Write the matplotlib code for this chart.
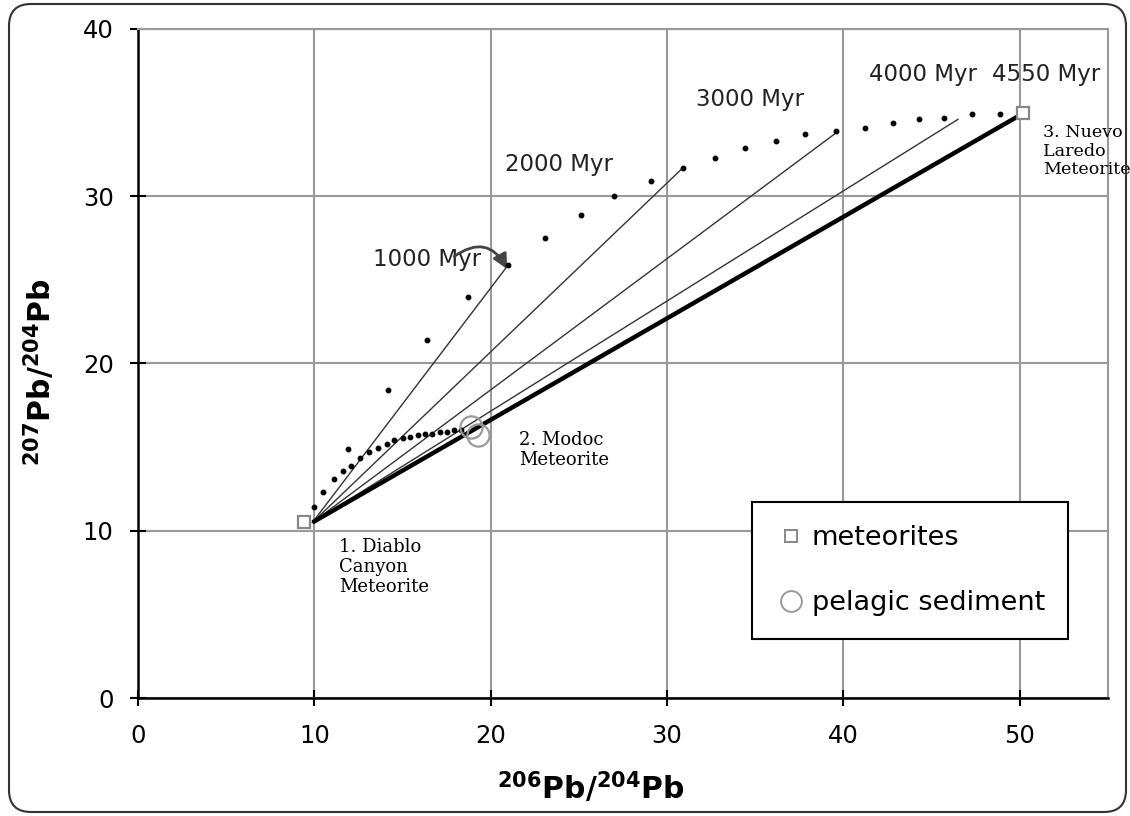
import matplotlib
matplotlib.use("Agg")
import matplotlib.pyplot as plt
from matplotlib.lines import Line2D
from matplotlib.patches import FancyBboxPatch
from matplotlib.transforms import IdentityTransform

# meteorite points (206Pb/204Pb, 207Pb/204Pb)
meteorite_x = [9.4, 50.2]
meteorite_y = [10.5, 35.0]

# pelagic sediment
sediment_x = [18.9, 19.3]
sediment_y = [16.2, 15.7]

# isochrons from primordial lead to the growth curve
iso_start = (9.9, 10.5)
iso_end_x = [21.0, 30.9, 39.6, 46.5]
iso_end_y = [25.9, 31.7, 33.8, 34.6]
geochron_end = (50.1, 34.9)

# growth curve (upper dotted)
upper_x = [11.9, 14.2, 16.4, 18.7, 21.0, 23.1, 25.1, 27.0, 29.1, 30.9, 32.7, 34.4,
           36.2, 37.8, 39.6, 41.2, 42.8, 44.3, 45.7, 47.3, 48.9]
upper_y = [14.9, 18.4, 21.4, 24.0, 25.9, 27.5, 28.9, 30.0, 30.9, 31.7, 32.3, 32.9,
           33.3, 33.7, 33.9, 34.1, 34.4, 34.6, 34.7, 34.9, 34.9]

# lower dotted curve towards Modoc
lower_x = [10.0, 10.5, 11.1, 11.6, 12.1, 12.6, 13.1, 13.6, 14.1, 14.5, 15.0, 15.4,
           15.9, 16.3, 16.7, 17.1, 17.5, 17.9, 18.3]
lower_y = [11.4, 12.3, 13.1, 13.6, 13.9, 14.35, 14.7, 14.95, 15.2, 15.4, 15.55, 15.6,
           15.7, 15.8, 15.8, 15.9, 15.9, 16.0, 16.0]

age_label_pos = [(16.4, 26.2), (23.9, 31.9), (34.7, 35.8), (44.5, 37.25), (51.5, 37.25)]
age_labels = ["1000 Myr", "2000 Myr", "3000 Myr", "4000 Myr", "4550 Myr"]

plt.rcParams['font.family'] = ['DejaVu Sans']

fig = plt.figure(figsize=(11.3, 8.16), dpi=100)
ax = fig.add_axes([0.1221, 0.1446, 0.8584, 0.8199])

# thin isochrons
for ex, ey in zip(iso_end_x, iso_end_y):
    ax.plot([iso_start[0], ex], [iso_start[1], ey], color="#333333", lw=1.0, zorder=3)
# thick geochron
ax.plot([iso_start[0], geochron_end[0]], [iso_start[1], geochron_end[1]],
        color="black", lw=3.2, zorder=4, solid_capstyle="butt")

ax.plot(upper_x, upper_y, ls="none", marker="o", ms=3.2, color="black", zorder=5)
ax.plot(lower_x, lower_y, ls="none", marker="o", ms=3.2, color="black", zorder=5)

ax.plot(sediment_x, sediment_y, ls="none", marker="o", ms=16, mfc="none",
        mec="#999999", mew=1.6, zorder=6)
ax.plot(meteorite_x, meteorite_y, ls="none", marker="s", ms=9, mfc="white",
        mec="#888888", mew=1.6, zorder=6)

for (tx, ty), lab in zip(age_label_pos, age_labels):
    ax.text(tx, ty, lab, fontsize=16.5, color="#222222", ha="center", va="center",
            clip_on=False)

ax.annotate("", xy=(21.0, 25.5), xytext=(17.8, 26.3),
            arrowprops=dict(arrowstyle="-|>", connectionstyle="arc3,rad=-0.6",
                            color="#444444", lw=2, mutation_scale=22))

serif = dict(family="DejaVu Serif", fontsize=13, va="top", ha="left", linespacing=1.12,
             color="black")
ax.text(11.4, 9.55, "1. Diablo\nCanyon\nMeteorite", **serif)
ax.text(21.6, 15.95, "2. Modoc\nMeteorite", **serif)
ax.text(51.3, 34.3, "3. Nuevo\nLaredo\nMeteorite", clip_on=False,
        **dict(serif, fontsize=12.6))

ax.set_xlim(0, 55)
ax.set_ylim(0, 40)
ax.set_xticks(range(0, 51, 10))
ax.set_yticks(range(0, 41, 10))
ax.grid(True, color="#999999", lw=1.5)
ax.set_axisbelow(True)
for side in ["top", "right"]:
    ax.spines[side].set_color("#999999")
    ax.spines[side].set_linewidth(1.5)
for side in ["left", "bottom"]:
    ax.spines[side].set_color("black")
    ax.spines[side].set_linewidth(1.8)
ax.tick_params(direction="inout", length=11, width=1.5, labelsize=17.5, colors="black")
ax.tick_params(axis="x", pad=13)
ax.tick_params(axis="y", pad=12)

ax.set_xlabel(r"$^{\mathbf{206}}$Pb/$^{\mathbf{204}}$Pb", fontsize=21.5, fontweight="bold")
ax.set_ylabel(r"$^{\mathbf{207}}$Pb/$^{\mathbf{204}}$Pb", fontsize=21.5, fontweight="bold")
ax.xaxis.set_label_coords(0.467, -0.1076)
ax.yaxis.set_label_coords(-0.0835, 0.487)

handles = [
    Line2D([], [], ls="none", marker="s", ms=8.5, mfc="white", mec="#888888", mew=1.4),
    Line2D([], [], ls="none", marker="o", ms=15, mfc="white", mec="#999999", mew=1.4),
]
leg = ax.legend(handles, ["meteorites", "pelagic sediment"], loc="upper left",
                bbox_to_anchor=(0.633, 0.293), fontsize=19.5, frameon=True, fancybox=False,
                borderpad=0.85, labelspacing=1.45, handlelength=1.2, handletextpad=0.15,
                borderaxespad=0)
leg.get_frame().set_edgecolor("black")
leg.get_frame().set_linewidth(1.5)
leg.get_frame().set_alpha(1)

border = FancyBboxPatch((9, 4), 1117, 808, boxstyle="round,pad=0,rounding_size=22",
                        transform=IdentityTransform(), fill=False, ec="#333333", lw=1.5)
fig.add_artist(border)

fig.savefig("out.png", dpi=100)
